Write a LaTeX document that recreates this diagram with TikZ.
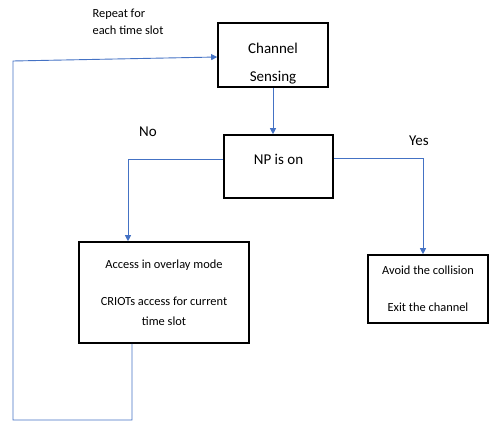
\documentclass[tikz,border=0pt]{standalone}
\usepackage{fontspec}
\setmainfont{Carlito}
\usetikzlibrary{arrows.meta}
\definecolor{flowblue}{RGB}{68,114,196}
\tikzset{
	box/.style={draw=black,line width=1.6pt,align=center,inner sep=2pt},
	flow/.style={draw=flowblue,line width=0.9pt,-{Triangle[width=6pt,length=6pt]}},
	big/.style={font=\fontsize{15}{18}\selectfont},
	small/.style={font=\fontsize{12.4}{15}\selectfont}
}
\begin{document}
\begin{tikzpicture}[x=1pt,y=-1pt]
		\useasboundingbox (0,0) rectangle (490,422);
		\node[box,big,minimum width=110pt,minimum height=64pt] (sense) at (273,55) {\rule{0pt}{28pt}Channel\\[10pt]Sensing};
		\node[box,big,minimum width=109pt,minimum height=63pt,text depth=15pt] (np) at (278.5,166.5) {NP is on};
		\node[box,small,minimum width=170pt,minimum height=101pt] (overlay) at (164,292.5) {Access in overlay mode\\[22pt]CRIOTs access for current\\[5pt]time slot};
		\node[box,small,minimum width=120pt,minimum height=68pt] (avoid) at (428,289) {Avoid the collision\\[22pt]Exit the channel};
		\node[small,align=left] (repeat) at (128,21.5) {Repeat for\\[2pt]each time slot};
		\node[big] (no) at (148,132) {No};
		\node[big] (yes) at (419,141) {Yes};
		\coordinate (nocorner) at (128,159);
		\coordinate (yescorner) at (423,158);
		\coordinate (loopa) at (132,420);
		\coordinate (loopb) at (13,420);
		\coordinate (loopc) at (13,61);
		\draw[flow] (sense.south) -- (sense.south |- np.north);
		\draw[flow] (np.west |- nocorner) -- (nocorner) -- (nocorner |- overlay.north);
		\draw[flow] (np.east |- yescorner) -- (yescorner) -- (yescorner |- avoid.north);
		\draw[flow] (loopa |- overlay.south) -- (loopa) -- (loopb) -- (loopc) -- ([yshift=-2pt]sense.west);
	\end{tikzpicture}
\end{document}
